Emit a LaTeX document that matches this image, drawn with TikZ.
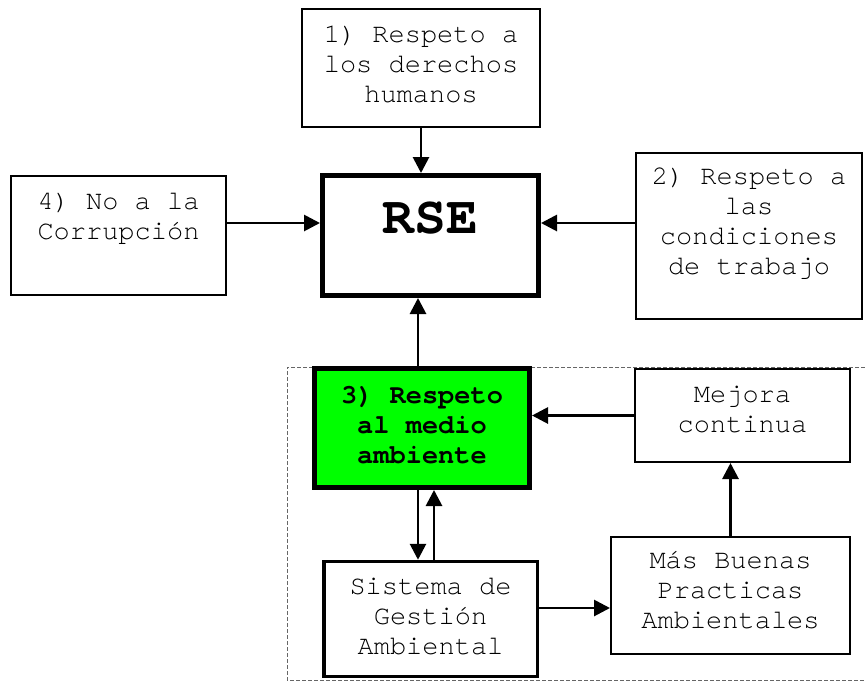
\documentclass[tikz,border=0pt]{standalone}
\usepackage{fontspec}
\setmonofont{texgyrecursor}[Extension=.otf, UprightFont=*-regular, BoldFont=*-bold]
\usetikzlibrary{arrows.meta,positioning}

\definecolor{verde}{RGB}{0,255,0}
\tikzset{
  box/.style={draw, rectangle, line width=1.6pt, inner sep=0pt},
  thickbox/.style={box, line width=5pt},
  txt/.style={align=center, inner sep=0pt, font=\fontsize{27}{30}\selectfont\ttfamily},
  txtb/.style={txt, font=\fontsize{27}{30}\selectfont\ttfamily\bfseries},
}

\begin{document}
\begin{tikzpicture}[x=1pt, y=-1pt, >={Triangle[length=16pt,width=16pt]}]
\useasboundingbox (0,0) rectangle (865,681);
% marco punteado
\draw[black!60, line width=1pt, dash pattern=on 4pt off 2pt] (865,367) -| (287,680) -- (865,680);

\node[box, minimum width=238.4pt, minimum height=118.4pt] (dh) at (421,68) {};
\node[thickbox, minimum width=216pt, minimum height=120pt] (rse) at (430.5,235.5) {};
\node[box, minimum width=215.4pt, minimum height=119.4pt] (corr) at (118.5,235.5) {};
\node[box, minimum width=226.4pt, minimum height=166.4pt] (trab) at (749,236) {};
\node[thickbox, fill=verde, minimum width=215pt, minimum height=119pt] (amb) at (422,428) {};
\node[box, minimum width=215.4pt, minimum height=93.4pt] (mej) at (742.5,415.5) {};
\node[box, line width=3.5pt, minimum width=213.5pt, minimum height=115pt] (sga) at (430.5,619) {};
\node[box, minimum width=239.4pt, minimum height=117.4pt] (bpa) at (730.5,595.5) {};

\node[txt, below=13pt of dh.north] (dhtxt) {\strut 1) Respeto a\\los derechos\\humanos};
\node[anchor=base, inner sep=0pt, font=\fontsize{53}{60}\selectfont\ttfamily\bfseries] (rsetxt) at ([yshift=-60pt]rse.north) {RSE};
\node[txt, below=13pt of corr.north] (corrtxt) {\strut 4) No a la\\Corrupción};
\node[txt, below=11pt of trab.north] (trabtxt) {\strut 2) Respeto a\\las\\condiciones\\de trabajo};
\node[txtb, below=16pt of amb.north] (ambtxt) {\strut 3) Respeto\\al medio\\ambiente};
\node[txt, below=13pt of mej.north] (mejtxt) {\strut Mejora\\continua};
\node[txt, below=14pt of sga.north] (sgatxt) {\strut Sistema de\\Gestión\\Ambiental};
\node[txt, below=11pt of bpa.north] (bpatxt) {\strut Más Buenas\\Practicas\\Ambientales};

\coordinate (mid) at (0,223);
\path[->, line width=2.8pt]
(dh.south) edge (dh.south |- rse.north)
(corr.east |- mid) edge (rse.west |- mid)
(trab.west |- mid) edge (rse.east |- mid)
([xshift=-4pt]amb.north) edge ([xshift=-4pt]amb.north |- rse.south)
(mej.west) edge (mej.west -| amb.east)
([xshift=-4pt]amb.south) edge ([xshift=-4pt]amb.south |- sga.north)
([xshift=12pt]amb.south |- sga.north) edge ([xshift=12pt]amb.south)
([yshift=11pt]sga.east) edge ([yshift=11pt]sga.east -| bpa.west)
(bpa.north) edge (bpa.north |- mej.south);
\end{tikzpicture}
\end{document}
